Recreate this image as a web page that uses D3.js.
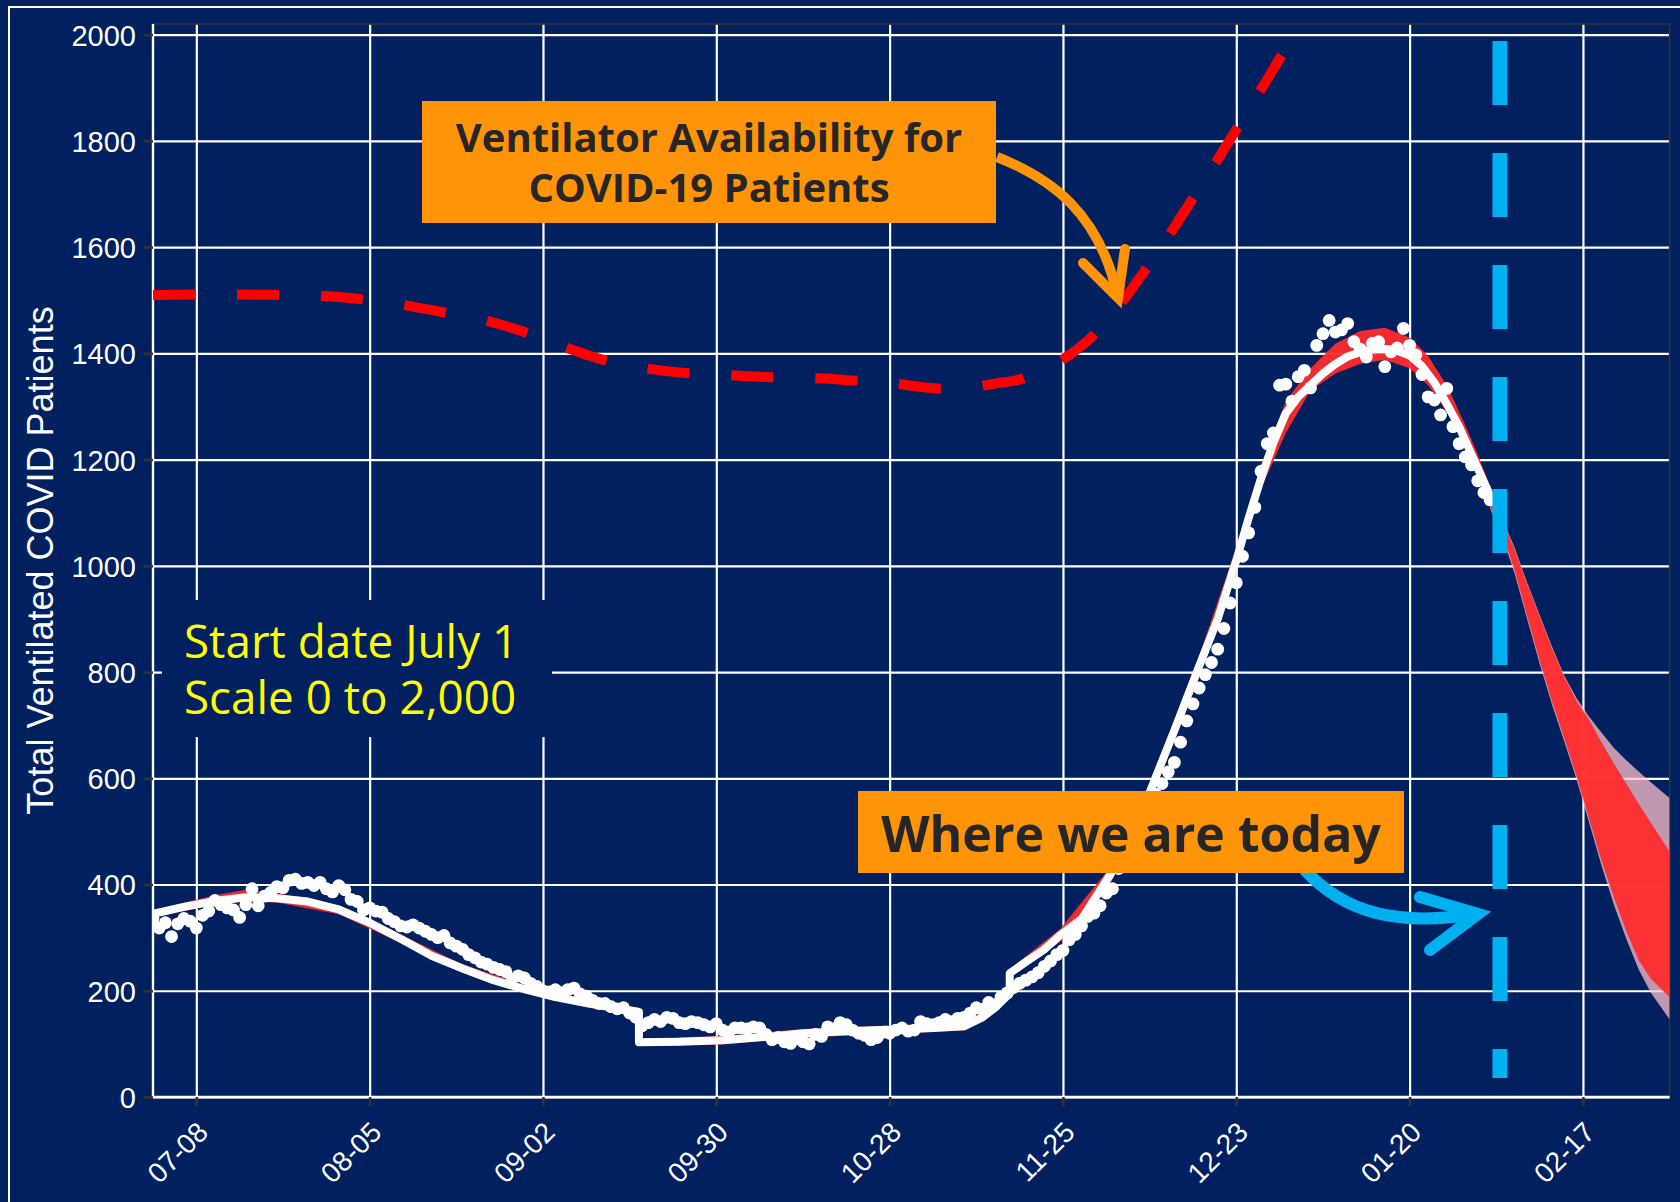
<!DOCTYPE html>
<html><head><meta charset="utf-8">
<script src="https://cdn.jsdelivr.net/npm/d3@7"></script>
<style>
html,body{margin:0;padding:0;background:#002060;}
svg{display:block;}
</style></head>
<body><svg id="chart" width="1680" height="1202"></svg>
<script>
// ---------------- DATA ----------------
const startDay = "2020-07-01";
const endDay = "2021-03-03";
const tickDates = ["2020-07-08","2020-08-05","2020-09-02","2020-09-30","2020-10-28","2020-11-25","2020-12-23","2021-01-20","2021-02-17"];
const tickLabels = ["07-08","08-05","09-02","09-30","10-28","11-25","12-23","01-20","02-17"];
const yTicks = [0,200,400,600,800,1000,1200,1400,1600,1800,2000];

// daily observed ventilated patients, one per day starting July 1
const obsValues = [
 335,318,328,302,326,336,331,318,342,350,
 370,362,356,352,338,362,392,360,378,385,
 396,394,408,410,402,404,398,404,392,386,
 398,390,372,368,352,356,350,348,336,330,
 322,320,324,318,312,306,300,304,290,284,
 278,268,262,254,250,244,240,236,222,228,
 224,214,208,200,198,202,196,202,205,194,
 190,182,176,176,170,166,168,158,150,134,
 140,146,142,150,148,140,138,142,140,136,
 132,138,126,122,130,130,128,132,130,118,
 108,112,104,101,110,104,100,118,114,132,
 128,140,136,126,120,116,108,112,122,120,
 126,130,124,126,142,138,136,140,146,142,
 148,150,158,168,165,178,174,188,196,206,
 214,220,226,234,246,256,268,276,296,306,
 322,340,346,360,384,392,430,455,475,500,
 530,548,570,590,612,630,668,708,740,770,
 795,818,843,882,930,968,1018,1062,1110,1178,
 1230,1250,1340,1342,1310,1356,1368,1335,1415,1437,
 1462,1440,1444,1456,1422,1408,1393,1419,1422,1375,
 1403,1410,1447,1415,1397,1360,1318,1312,1284,1334,
 1262,1230,1205,1190,1160,1138,1124
];

// model fit (days since July 1)
const fitDays = [0,5,10,15,20,25,30,35,40,45,50,55,60,65,70,75,78.5,78.5,85,92,100,105,112,120,126,131,134,136,138.4,138.4,141,144,146.5,150,154.6,158,161,165,169,172,175,177,179,181,183,185,187,189,191,193,195,197,199,201,203,205,207,209,211,213,215,216];
const fitValues = [345,358,369,376,374,368,353,328,298,266,242,220,203,188,177,167,160,103,104,107,114,120,124,127,130,133,150,168,195,233,254,278,304,335,418,490,573,690,811,900,1010,1090,1165,1232,1287,1318,1340,1362,1380,1394,1402,1407,1408,1405,1396,1376,1345,1305,1262,1210,1158,1132];

// model ensemble band (fit period + projection)
const bandDays = [0,10,15,20,30,40,50,60,70,78.5,78.5,92,105,120,131,136,138.4,138.4,146.5,154.6,161,169,175,179,183,187,191,195,199,203,206,209,212,214,216,218,220,222,224,226,228,230,232,234,236,238,240,242,245];
const bandLow = [338,362,368,366,344,290,234,195,169,152,96,99,112,119,125,160,187,225,292,400,555,790,985,1145,1250,1330,1362,1380,1388,1372,1340,1290,1225,1172,1112,1060,990,905,822,745,675,603,524,445,376,312,258,222,188];
const bandHigh = [352,380,390,384,360,306,250,211,185,168,110,115,128,135,141,176,203,241,316,432,590,830,1035,1190,1310,1372,1418,1442,1448,1430,1395,1340,1265,1210,1150,1084,1030,965,905,845,790,745,710,668,628,590,552,516,462];

// wider projection range
const rangeDays = [216,218,220,222,224,226,228,230,232,234,236,238,240,242,245];
const rangeLow = [1108,1054,984,899,816,739,669,597,517,436,362,298,240,196,146];
const rangeHigh = [1152,1088,1033,968,908,848,793,750,716,686,657,634,613,592,563];

// ventilator availability
const ventDays = [0,10,20,26,30,35,40,47,54,60,66,72,79,86,93,100,106,113,120,127,132,136,140,143,147,151,156,160,164,168,172,176,180,184,188];
const ventValues = [1510,1511,1510,1509,1506,1500,1492,1477,1461,1440,1414,1390,1373,1363,1359,1355,1354,1349,1343,1334,1336,1343,1351,1365,1389,1424,1488,1552,1620,1692,1765,1840,1916,1994,2072];

// "today" marker
const todayDay = 217.6;
const todayRange = [36, 1988];

// ---------------- CHART ----------------
const W = 1680, H = 1202;
const pL = 153, pR = 1669.6, pT = 24, pB = 1097;
const svg = d3.select("#chart");
const navy = "#002060";
const orange = "#FF9408";
const blue = "#00B0F0";

const t0 = Date.parse(startDay + "T00:00:00Z");
const dayDate = d => new Date(t0 + d * 86400000);
const parseUTC = s => new Date(Date.parse(s + "T00:00:00Z"));

const x = d3.scaleUtc().domain([parseUTC(startDay), parseUTC(endDay)]).range([pL, pR]);
const y = d3.scaleLinear().domain([0, 2020]).range([pB, pT]);

svg.append("rect").attr("width", W).attr("height", H).attr("fill", navy);
svg.append("rect").attr("x", 9).attr("y", 7).attr("width", 1700).attr("height", 1300)
  .attr("fill", "none").attr("stroke", "#ffffff").attr("stroke-width", 2);

// grid
const gridY = svg.append("g").attr("transform", `translate(${pL},0)`)
  .call(d3.axisLeft(y).tickValues(yTicks).tickSize(-(pR - pL)).tickFormat(""));
gridY.select(".domain").remove();
gridY.selectAll("line").attr("stroke", "#ffffff").attr("stroke-width", 2.2);

const gridX = svg.append("g").attr("transform", `translate(0,${pB})`)
  .call(d3.axisBottom(x).tickValues(tickDates.map(parseUTC)).tickSize(-(pB - pT)).tickFormat(""));
gridX.select(".domain").remove();
gridX.selectAll("line").attr("stroke", "#ffffff").attr("stroke-width", 2.2);

// panel border
svg.append("rect").attr("x", pL).attr("y", pT).attr("width", pR - pL).attr("height", pB - pT)
  .attr("fill", "none").attr("stroke", "#333333").attr("stroke-width", 1.6);
svg.append("line").attr("x1", pL).attr("x2", pL).attr("y1", pT).attr("y2", pB)
  .attr("stroke", "#ffffff").attr("stroke-width", 2.4);
svg.append("line").attr("x1", pL).attr("x2", pR).attr("y1", pB).attr("y2", pB)
  .attr("stroke", "#ffffff").attr("stroke-width", 2.4);

// axes
const font = "'Liberation Sans', Arial, sans-serif";
const yAxis = svg.append("g").attr("transform", `translate(${pL},0)`)
  .call(d3.axisLeft(y).tickValues(yTicks).tickSize(9.5).tickPadding(7.5).tickFormat(d3.format("d")));
yAxis.select(".domain").remove();
yAxis.selectAll("line").attr("stroke", "#333333").attr("stroke-width", 2.6);
yAxis.selectAll("text").attr("fill", "#ffffff").style("font-family", font).style("font-size", "29px").attr("dy", "0.36em");

const xAxis = svg.append("g").attr("transform", `translate(0,${pB})`)
  .call(d3.axisBottom(x).tickValues(tickDates.map(parseUTC)).tickSize(9).tickFormat((d, i) => tickLabels[i]));
xAxis.select(".domain").remove();
xAxis.selectAll("line").attr("stroke", "#333333").attr("stroke-width", 2.6);
xAxis.selectAll("text").attr("fill", "#ffffff").style("font-family", font).style("font-size", "28px")
  .attr("x", 0).attr("y", 0).attr("dy", 0).attr("text-anchor", "end")
  .attr("transform", "translate(13,37) rotate(-45)");

svg.append("text").attr("transform", `translate(53,${(pT + pB) / 2}) rotate(-90)`)
  .attr("text-anchor", "middle").attr("fill", "#ffffff")
  .style("font-family", font).style("font-size", "36px")
  .text("Total Ventilated COVID Patients");

// data layer
svg.append("clipPath").attr("id", "clip").append("rect")
  .attr("x", pL).attr("y", pT).attr("width", pR - pL).attr("height", pB - pT);
const g = svg.append("g").attr("clip-path", "url(#clip)");

const rangeData = rangeDays.map((d, i) => ({d, lo: rangeLow[i], hi: rangeHigh[i]}));
g.append("path").datum(rangeData)
  .attr("d", d3.area().x(p => x(dayDate(p.d))).y0(p => y(p.lo)).y1(p => y(p.hi)))
  .attr("fill", "pink").attr("fill-opacity", 0.75);

const bandData = bandDays.map((d, i) => ({d, lo: bandLow[i], hi: bandHigh[i]}));
g.append("path").datum(bandData)
  .attr("d", d3.area().x(p => x(dayDate(p.d))).y0(p => y(p.lo)).y1(p => y(p.hi)))
  .attr("fill", "#FF2B2B").attr("fill-opacity", 0.94);

const ventData = ventDays.map((d, i) => ({d, v: ventValues[i]}));
g.append("path").datum(ventData)
  .attr("d", d3.line().x(p => x(dayDate(p.d))).y(p => y(p.v)).curve(d3.curveMonotoneX))
  .attr("fill", "none").attr("stroke", "#FF0000").attr("stroke-width", 10)
  .attr("stroke-dasharray", "42,42");

const fitData = fitDays.map((d, i) => ({d, v: fitValues[i]}));
g.append("path").datum(fitData)
  .attr("d", d3.line().x(p => x(dayDate(p.d))).y(p => y(p.v)))
  .attr("fill", "none").attr("stroke", "#ffffff").attr("stroke-width", 8)
  .attr("stroke-linejoin", "round");

g.selectAll("circle.obs").data(obsValues).join("circle").attr("class", "obs")
  .attr("cx", (v, i) => x(dayDate(i))).attr("cy", v => y(v)).attr("r", 6.4).attr("fill", "#ffffff");

// today line
g.append("line")
  .attr("x1", x(dayDate(todayDay))).attr("x2", x(dayDate(todayDay)))
  .attr("y1", y(todayRange[1])).attr("y2", y(todayRange[0]))
  .attr("stroke", blue).attr("stroke-width", 15).attr("stroke-dasharray", "64,48");

// ---------------- ANNOTATIONS ----------------
const ann = svg.append("g");
// orange arrow
ann.append("path").attr("d", "M997,157 C1050,178 1100,212 1118,298")
  .attr("fill", "none").attr("stroke", orange).attr("stroke-width", 10);
ann.append("path").attr("d", "M1083,263 L1118,298 L1125,249")
  .attr("fill", "none").attr("stroke", orange).attr("stroke-width", 10)
  .attr("stroke-linecap", "round").attr("stroke-linejoin", "miter");
// blue arrow
ann.append("path").attr("d", "M1303,868 C1345,915 1400,926 1476,914")
  .attr("fill", "none").attr("stroke", blue).attr("stroke-width", 12);
ann.append("path").attr("d", "M1420,897 L1478,914 L1430,950")
  .attr("fill", "none").attr("stroke", blue).attr("stroke-width", 12)
  .attr("stroke-linecap", "round").attr("stroke-linejoin", "miter");

const boldFont = "'Open Sans', 'Noto Sans', sans-serif";
ann.append("rect").attr("x", 422).attr("y", 101).attr("width", 574).attr("height", 122).attr("fill", orange);
ann.append("text").attr("x", 709).attr("y", 152).attr("text-anchor", "middle").attr("fill", "#262626")
  .style("font-family", boldFont).style("font-weight", 700).style("font-size", "40px")
  .text("Ventilator Availability for");
ann.append("text").attr("x", 709).attr("y", 202).attr("text-anchor", "middle").attr("fill", "#262626")
  .style("font-family", boldFont).style("font-weight", 700).style("font-size", "40px")
  .text("COVID-19 Patients");

ann.append("rect").attr("x", 858).attr("y", 791).attr("width", 546).attr("height", 82).attr("fill", orange);
ann.append("text").attr("x", 1131).attr("y", 852).attr("text-anchor", "middle").attr("fill", "#262626")
  .style("font-family", boldFont).style("font-weight", 700).style("font-size", "50px")
  .text("Where we are today");

ann.append("rect").attr("x", 162).attr("y", 600).attr("width", 390).attr("height", 137).attr("fill", navy);
ann.append("text").attr("x", 184).attr("y", 658).attr("fill", "#FFFF00")
  .style("font-family", boldFont).style("font-size", "45.8px").text("Start date July 1");
ann.append("text").attr("x", 184).attr("y", 714).attr("fill", "#FFFF00")
  .style("font-family", boldFont).style("font-size", "45.8px").text("Scale 0 to 2,000");
</script>
</body></html>
